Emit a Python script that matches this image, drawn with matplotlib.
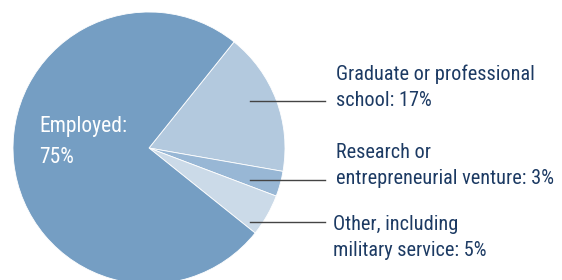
import matplotlib
matplotlib.use('Agg')
import matplotlib.pyplot as plt

# Share of graduates by outcome (percent)
categories = ['Graduate or professional\nschool: 17%',
              'Research or\nentrepreneurial venture: 3%',
              'Other, including\nmilitary service: 5%',
              'Employed:\n75%']
values = [17, 3, 5, 75]
colors = ['#b3c9de', '#98b7d5', '#cbdae8', '#759ec3']

plt.rcParams['font.family'] = ['Roboto Condensed', 'DejaVu Sans']

W, H = 562, 280
fig = plt.figure(figsize=(W / 100, H / 100), dpi=100)
ax = fig.add_axes([0, 0, 1, 1])

cx, cy, r = 149, H - 148, 136
wedges, _ = ax.pie(values, colors=colors, startangle=51.3, counterclock=False,
                   center=(cx, cy), radius=r,
                   wedgeprops=dict(edgecolor='white', linewidth=0.6))

ax.set_xlim(0, W)
ax.set_ylim(0, H)
ax.set_aspect('equal')
ax.axis('off')

text_color = '#1c3a63'
# label layout: (text x, block centre y, leader y), in pixels from top
layout = [(336, 87, 101), (336, 165.5, 180), (333, 237.5, 222)]
for label, (tx, ty, ly) in zip(categories[:3], layout):
    ax.text(tx, H - ty, label, color=text_color, fontsize=14.6,
            va='center', ha='left', linespacing=1.5)
    ax.plot([250, 325], [H - ly, H - ly], color='#444444', lw=1.0)

ax.text(39, H - 142, categories[3], color='white', fontsize=15.5,
        va='center', ha='left', linespacing=1.6)

fig.savefig('out.png', dpi=100)
